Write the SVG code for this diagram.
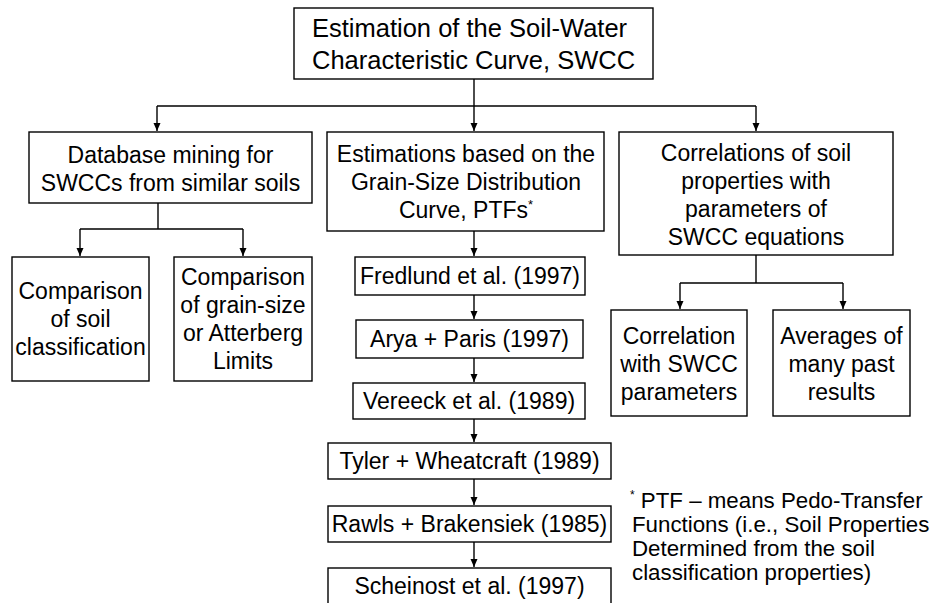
<svg xmlns="http://www.w3.org/2000/svg" width="934" height="603" viewBox="0 0 934 603">
<style>
.box{fill:#fff;stroke:#000;stroke-width:1.4}
.t{font-family:"Liberation Sans",Arial,sans-serif;font-size:23px;fill:#000;text-anchor:middle}
.title{font-family:"Liberation Sans",Arial,sans-serif;font-size:25.5px;fill:#000}
.fn{font-family:"Liberation Sans",Arial,sans-serif;font-size:22.3px;fill:#000}
.c{fill:none;stroke:#000;stroke-width:1.4}
</style>
<defs>
<marker id="ah" markerUnits="userSpaceOnUse" markerWidth="9" markerHeight="8" refX="8" refY="3.5" orient="auto">
<path d="M0,0 L8,3.5 L0,7 z" fill="#000"/>
</marker>
</defs>
<rect width="934" height="603" fill="#fff"/>
<g id="connectors">
<path class="c" d="M474,79 V106"/>
<path class="c" d="M157,106 H756"/>
<path class="c" d="M157,106 V131" marker-end="url(#ah)"/>
<path class="c" d="M474,106 V131" marker-end="url(#ah)"/>
<path class="c" d="M756,106 V131" marker-end="url(#ah)"/>
<path class="c" d="M158,203 V229 M80,229 H243"/>
<path class="c" d="M80,229 V256" marker-end="url(#ah)"/>
<path class="c" d="M243,229 V256" marker-end="url(#ah)"/>
<path class="c" d="M474,231 V256" marker-end="url(#ah)"/>
<path class="c" d="M474,295 V319" marker-end="url(#ah)"/>
<path class="c" d="M474,358 V382" marker-end="url(#ah)"/>
<path class="c" d="M474,419 V442" marker-end="url(#ah)"/>
<path class="c" d="M474,479 V505" marker-end="url(#ah)"/>
<path class="c" d="M474,542 V567" marker-end="url(#ah)"/>
<path class="c" d="M756,255 V283 M680,283 H843"/>
<path class="c" d="M680,283 V309" marker-end="url(#ah)"/>
<path class="c" d="M843,283 V309" marker-end="url(#ah)"/>
</g>
<g id="root">
<rect class="box" x="294" y="8" width="359" height="71"/>
<text class="title" x="312" y="36.5">Estimation of the Soil-Water</text>
<text class="title" x="312" y="68.5">Characteristic Curve, SWCC</text>
</g>
<g id="database">
<rect class="box" x="29" y="132" width="283" height="71"/>
<text class="t" x="170.5" y="163">Database mining for</text>
<text class="t" x="170.5" y="191">SWCCs from similar soils</text>
</g>
<g id="soilclass">
<rect class="box" x="12" y="257" width="137" height="124"/>
<text class="t" x="80.5" y="299">Comparison</text>
<text class="t" x="80.5" y="327">of soil</text>
<text class="t" x="80.5" y="355">classification</text>
</g>
<g id="grainsize">
<rect class="box" x="174" y="257" width="138" height="124"/>
<text class="t" x="243" y="285">Comparison</text>
<text class="t" x="243" y="313">of grain-size</text>
<text class="t" x="243" y="341">or Atterberg</text>
<text class="t" x="243" y="369">Limits</text>
</g>
<g id="gsd">
<rect class="box" x="327" y="132" width="277" height="99"/>
<text class="t" x="466" y="162">Estimations based on the</text>
<text class="t" x="466" y="190">Grain-Size Distribution</text>
<text class="t" x="466" y="218">Curve, PTFs<tspan font-size="13" dy="-9">*</tspan></text>
</g>
<g id="fredlund">
<rect class="box" x="355" y="257" width="230" height="38"/>
<text class="t" x="470" y="284">Fredlund et al. (1997)</text>
</g>
<g id="arya">
<rect class="box" x="356" y="320" width="227" height="38"/>
<text class="t" x="469.5" y="347">Arya + Paris (1997)</text>
</g>
<g id="vereeck">
<rect class="box" x="353" y="383" width="232" height="36"/>
<text class="t" x="469" y="409">Vereeck et al. (1989)</text>
</g>
<g id="tyler">
<rect class="box" x="328" y="443" width="283" height="36"/>
<text class="t" x="469.5" y="469">Tyler + Wheatcraft (1989)</text>
</g>
<g id="rawls">
<rect class="box" x="328" y="506" width="283" height="36"/>
<text class="t" x="469.5" y="532">Rawls + Brakensiek (1985)</text>
</g>
<g id="scheinost">
<rect class="box" x="328" y="568" width="283" height="40"/>
<text class="t" x="469.5" y="594">Scheinost et al. (1997)</text>
</g>
<g id="correlations">
<rect class="box" x="619" y="132" width="274" height="123"/>
<text class="t" x="756" y="160.5">Correlations of soil</text>
<text class="t" x="756" y="188.5">properties with</text>
<text class="t" x="756" y="216.5">parameters of</text>
<text class="t" x="756" y="244.5">SWCC equations</text>
</g>
<g id="corrswcc">
<rect class="box" x="611" y="310" width="136" height="106"/>
<text class="t" x="679" y="344">Correlation</text>
<text class="t" x="679" y="372">with SWCC</text>
<text class="t" x="679" y="400">parameters</text>
</g>
<g id="averages">
<rect class="box" x="773" y="310" width="137" height="106"/>
<text class="t" x="841.5" y="344">Averages of</text>
<text class="t" x="841.5" y="372">many past</text>
<text class="t" x="841.5" y="400">results</text>
</g>
<g id="footnote">
<text class="fn" x="630" y="508"><tspan font-size="12" dy="-9">*</tspan><tspan dy="9"> PTF – means Pedo-Transfer</tspan></text>
<text class="fn" x="632" y="532">Functions (i.e., Soil Properties</text>
<text class="fn" x="632" y="556">Determined from the soil</text>
<text class="fn" x="632" y="580">classification properties)</text>
</g>
</svg>
